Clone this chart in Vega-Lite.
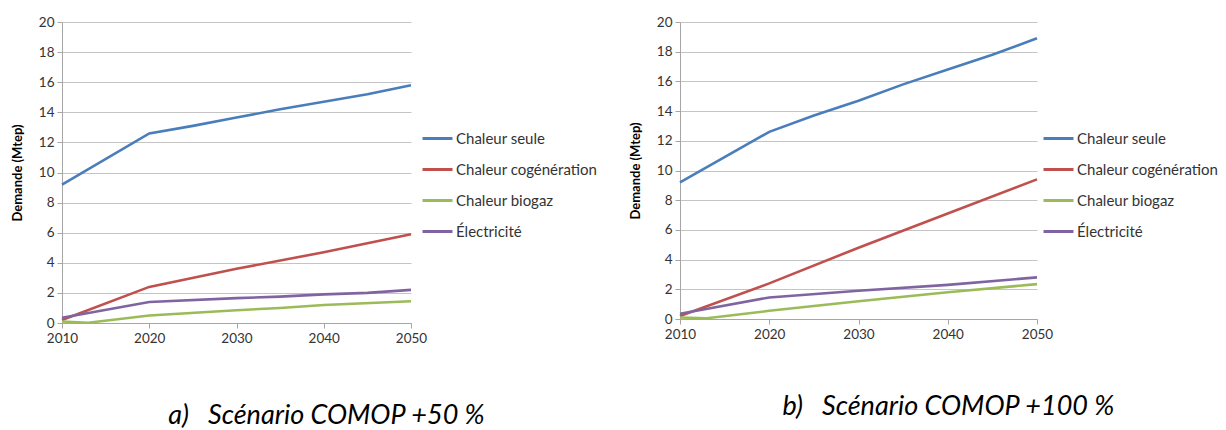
{
  "$schema": "https://vega.github.io/schema/vega-lite/v6.json",
  "background": "white",
  "padding": {"top": 15, "left": 11, "right": 0, "bottom": 0},
  "spacing": 31,
  "config": {
    "view": {"stroke": null},
    "font": "Lato",
    "axis": {
      "labelFont": "Lato", "labelFontSize": 13.5, "labelColor": "#333333",
      "gridColor": "#c4c4c4", "gridWidth": 1, "domainColor": "#a6a6a6",
      "tickColor": "#a6a6a6", "tickSize": 5, "labelPadding": 3
    },
    "legend": {
      "labelFont": "Lato", "labelFontSize": 15, "labelColor": "#333333",
      "symbolType": "stroke", "symbolSize": 900, "symbolStrokeWidth": 3,
      "rowPadding": 6, "labelOffset": 2, "title": null
    },
    "title": {"font": "Lato", "fontSize": 27, "fontStyle": "italic", "fontWeight": "normal", "color": "#000000", "orient": "bottom", "anchor": "middle"}
  },
  "datasets": {
    "a": [
      {"annee": 2010, "serie": "Chaleur seule", "v": 9.2},
      {"annee": 2020, "serie": "Chaleur seule", "v": 12.6},
      {"annee": 2025, "serie": "Chaleur seule", "v": 13.1},
      {"annee": 2030, "serie": "Chaleur seule", "v": 13.65},
      {"annee": 2035, "serie": "Chaleur seule", "v": 14.2},
      {"annee": 2040, "serie": "Chaleur seule", "v": 14.7},
      {"annee": 2045, "serie": "Chaleur seule", "v": 15.2},
      {"annee": 2050, "serie": "Chaleur seule", "v": 15.8},
      {"annee": 2010, "serie": "Chaleur cogénération", "v": 0.2},
      {"annee": 2020, "serie": "Chaleur cogénération", "v": 2.4},
      {"annee": 2030, "serie": "Chaleur cogénération", "v": 3.6},
      {"annee": 2040, "serie": "Chaleur cogénération", "v": 4.7},
      {"annee": 2050, "serie": "Chaleur cogénération", "v": 5.9},
      {"annee": 2010, "serie": "Chaleur biogaz", "v": 0.1},
      {"annee": 2013, "serie": "Chaleur biogaz", "v": 0.02},
      {"annee": 2020, "serie": "Chaleur biogaz", "v": 0.5},
      {"annee": 2030, "serie": "Chaleur biogaz", "v": 0.85},
      {"annee": 2035, "serie": "Chaleur biogaz", "v": 1.0},
      {"annee": 2040, "serie": "Chaleur biogaz", "v": 1.2},
      {"annee": 2050, "serie": "Chaleur biogaz", "v": 1.45},
      {"annee": 2010, "serie": "Électricité", "v": 0.35},
      {"annee": 2020, "serie": "Électricité", "v": 1.4},
      {"annee": 2030, "serie": "Électricité", "v": 1.65},
      {"annee": 2035, "serie": "Électricité", "v": 1.75},
      {"annee": 2040, "serie": "Électricité", "v": 1.9},
      {"annee": 2045, "serie": "Électricité", "v": 2.0},
      {"annee": 2050, "serie": "Électricité", "v": 2.2}
    ],
    "b": [
      {"annee": 2010, "serie": "Chaleur seule", "v": 9.2},
      {"annee": 2020, "serie": "Chaleur seule", "v": 12.6},
      {"annee": 2025, "serie": "Chaleur seule", "v": 13.7},
      {"annee": 2030, "serie": "Chaleur seule", "v": 14.7},
      {"annee": 2035, "serie": "Chaleur seule", "v": 15.8},
      {"annee": 2040, "serie": "Chaleur seule", "v": 16.8},
      {"annee": 2045, "serie": "Chaleur seule", "v": 17.8},
      {"annee": 2050, "serie": "Chaleur seule", "v": 18.9},
      {"annee": 2010, "serie": "Chaleur cogénération", "v": 0.2},
      {"annee": 2020, "serie": "Chaleur cogénération", "v": 2.4},
      {"annee": 2030, "serie": "Chaleur cogénération", "v": 4.8},
      {"annee": 2040, "serie": "Chaleur cogénération", "v": 7.1},
      {"annee": 2050, "serie": "Chaleur cogénération", "v": 9.4},
      {"annee": 2010, "serie": "Chaleur biogaz", "v": 0.1},
      {"annee": 2013, "serie": "Chaleur biogaz", "v": 0.05},
      {"annee": 2020, "serie": "Chaleur biogaz", "v": 0.55},
      {"annee": 2030, "serie": "Chaleur biogaz", "v": 1.2},
      {"annee": 2040, "serie": "Chaleur biogaz", "v": 1.8},
      {"annee": 2050, "serie": "Chaleur biogaz", "v": 2.35},
      {"annee": 2010, "serie": "Électricité", "v": 0.35},
      {"annee": 2020, "serie": "Électricité", "v": 1.45},
      {"annee": 2030, "serie": "Électricité", "v": 1.9},
      {"annee": 2040, "serie": "Électricité", "v": 2.3},
      {"annee": 2050, "serie": "Électricité", "v": 2.8}
    ]
  },
  "resolve": {"legend": {"color": "independent"}},
  "hconcat": [
    {
      "width": 349, "height": 301,
      "title": {"text": "a)\u00a0\u00a0\u00a0Scénario COMOP +50 %", "dx": 90, "offset": 58},
      "data": {"name": "a"},
      "mark": {"type": "line", "strokeWidth": 2.6},
      "encoding": {
        "x": {"field": "annee", "type": "quantitative", "scale": {"domain": [2010, 2050], "nice": false}, "axis": {"values": [2010, 2020, 2030, 2040, 2050], "format": "d", "title": null, "grid": false, "labelFlush": false}},
        "y": {"field": "v", "type": "quantitative", "scale": {"domain": [0, 20], "nice": false}, "axis": {"values": [0, 2, 4, 6, 8, 10, 12, 14, 16, 18, 20], "title": "Demande (Mtep)", "titleFont": "Lato", "titleFontSize": 13, "titleFontWeight": "bold", "titleColor": "#000000", "titlePadding": 14}},
        "color": {"field": "serie", "type": "nominal", "scale": {"domain": ["Chaleur seule", "Chaleur cogénération", "Chaleur biogaz", "Électricité"], "range": ["#4a7ebb", "#c0504d", "#9bbb59", "#8064a2"]}, "legend": {"orient": "none", "legendX": 359, "legendY": 100}}
      }
    },
    {
      "width": 357, "height": 297,
      "title": {"text": "b)\u00a0\u00a0\u00a0Scénario COMOP +100 %", "dx": 90, "offset": 53},
      "data": {"name": "b"},
      "mark": {"type": "line", "strokeWidth": 2.6},
      "encoding": {
        "x": {"field": "annee", "type": "quantitative", "scale": {"domain": [2010, 2050], "nice": false}, "axis": {"values": [2010, 2020, 2030, 2040, 2050], "format": "d", "title": null, "grid": false, "labelFlush": false}},
        "y": {"field": "v", "type": "quantitative", "scale": {"domain": [0, 20], "nice": false}, "axis": {"values": [0, 2, 4, 6, 8, 10, 12, 14, 16, 18, 20], "title": "Demande (Mtep)", "titleFont": "Lato", "titleFontSize": 13, "titleFontWeight": "bold", "titleColor": "#000000", "titlePadding": 14}},
        "color": {"field": "serie", "type": "nominal", "scale": {"domain": ["Chaleur seule", "Chaleur cogénération", "Chaleur biogaz", "Électricité"], "range": ["#4a7ebb", "#c0504d", "#9bbb59", "#8064a2"]}, "legend": {"orient": "none", "legendX": 362, "legendY": 100}}
      }
    }
  ]
}
